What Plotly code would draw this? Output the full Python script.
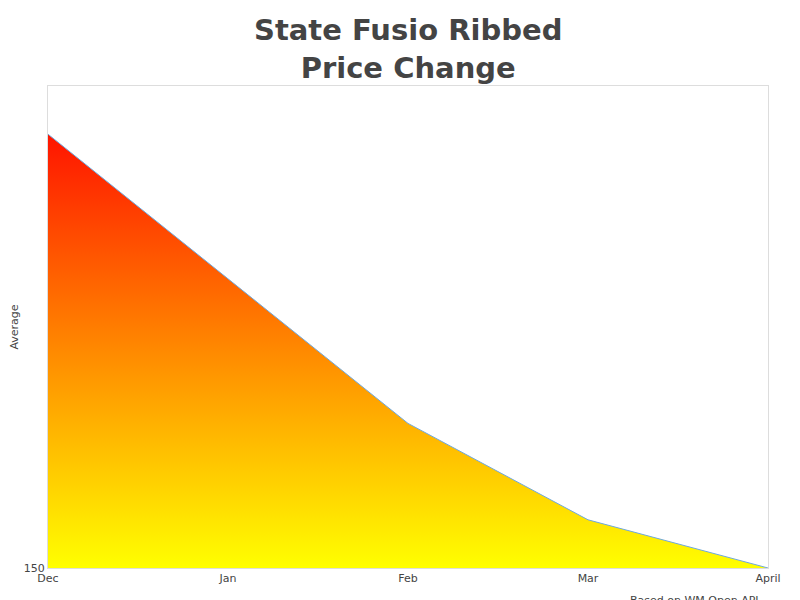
import plotly.graph_objects as go

months = ["Dec", "Jan", "Feb", "Mar", "April"]
average = [240, 210, 180, 160, 150]

fig = go.Figure(go.Scatter(
    x=months, y=average, mode="lines",
    line=dict(color="#6fa8dc", width=1),
    fill="tozeroy",
    fillgradient=dict(type="vertical", start=150, stop=240,
                      colorscale=[[0, "#ffff00"], [1, "#ff1400"]]),
))
fig.update_layout(
    width=800, height=600,
    margin=dict(l=40, r=40, t=78, b=40, autoexpand=False),
    paper_bgcolor="white", plot_bgcolor="white",
    font=dict(family="DejaVu Sans", size=11, color="#444"),
    showlegend=False,
    xaxis=dict(showgrid=False, zeroline=False, showline=True, linecolor="#ddd", mirror=True,
               range=[0, 4], ticks="", tickfont=dict(size=11), automargin=False),
    yaxis=dict(showgrid=False, zeroline=False, showline=True, linecolor="#ddd", mirror=True,
               range=[150, 250], tickvals=[150], ticktext=["150"], automargin=False,
               title=dict(text="Average", standoff=10, font=dict(size=11))),
    annotations=[
        dict(text="<b>State Fusio Ribbed<br>Price Change</b>", xref="paper", yref="paper",
             x=0.5, y=1.155, xanchor="center", yanchor="top", showarrow=False,
             font=dict(size=29, color="#444"), align="center"),
        dict(text="Based on WM Open API", xref="paper", yref="paper",
             x=0.99, y=-0.05, xanchor="right", yanchor="top",
             showarrow=False, font=dict(size=11, color="#444"))],
)
fig.write_html("out.html")
